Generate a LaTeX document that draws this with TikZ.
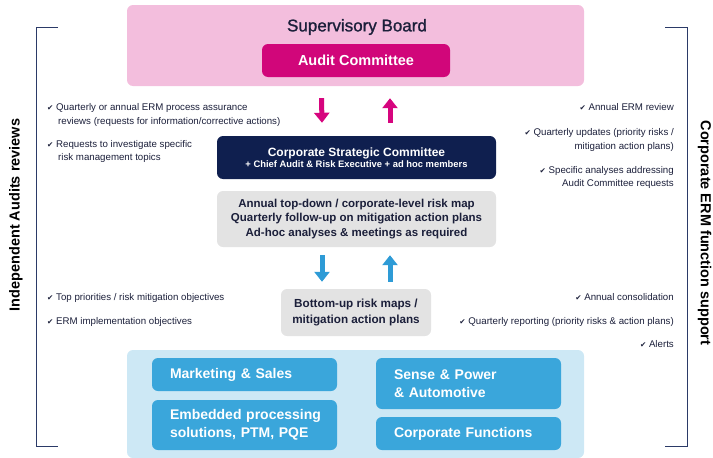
\documentclass[tikz,border=0pt]{standalone}
\usepackage{fontspec}
\setmainfont{Liberation Sans}
\newfontfamily\symf{DejaVu Sans}
\newfontfamily\medf[FakeBold=1.2]{Liberation Sans}
\usetikzlibrary{arrows.meta}
\definecolor{pinkbg}{HTML}{F3BEDD}
\definecolor{magent}{HTML}{D1067A}
\definecolor{magarr}{HTML}{D6057E}
\definecolor{navybox}{HTML}{0F1F4F}
\definecolor{graybox}{HTML}{E3E3E3}
\definecolor{lightblue}{HTML}{CDE8F5}
\definecolor{bluebox}{HTML}{3AA6DB}
\definecolor{bluearr}{HTML}{2E9BD6}
\definecolor{txtdark}{HTML}{1B1F3A}
\definecolor{brk}{HTML}{2B3A67}
\newcommand{\ck}{{\symf\fontsize{7.5}{9}\selectfont ✔}}
\tikzset{
  x=1pt, y=-1pt,
  rbox/.style={rounded corners=6pt, inner sep=0pt, align=center},
  bluebx/.style={rbox, fill=bluebox, text=white, align=left, inner xsep=18pt,
     text width=149pt, font=\bfseries\fontsize{14}{18}\selectfont},
  chk/.style={inner sep=0pt, text=txtdark, font=\fontsize{9.7}{11}\selectfont},
  parr/.style={line width=5pt, draw=magarr, -{Triangle[width=15pt,length=10pt]}},
  barr/.style={line width=5pt, draw=bluearr, -{Triangle[width=15pt,length=10pt]}},
  brack/.style={draw=brk, line width=1pt},
  side/.style={inner sep=0pt, text=black, font=\bfseries\fontsize{14.5}{18}\selectfont}
}
\begin{document}
\begin{tikzpicture}
\useasboundingbox (0,0) rectangle (713,458);
% top
\node[rbox, fill=pinkbg, minimum width=457pt, minimum height=81pt] (sb) at (355.5,45.5) {};
\node[inner sep=0pt, font=\medf\fontsize{17}{20}\selectfont, text=txtdark] (sbt) at (357,27) {Supervisory Board};
\node[rbox, fill=magent, minimum width=188pt, minimum height=33pt, text=white,
      font=\bfseries\fontsize{14.5}{17}\selectfont] (ac) at (356,60.5) {Audit Committee};
% strategic committee
\node[rbox, fill=navybox, minimum width=279pt, minimum height=43pt, text=white] (csc) at (356.5,157.5)
  {{\bfseries\fontsize{12}{14}\selectfont Corporate Strategic Committee}\\[-1pt]
   {\bfseries\fontsize{9.4}{11}\selectfont + Chief Audit \& Risk Executive + ad hoc members}};
\node[rbox, fill=graybox, minimum width=279pt, minimum height=56pt, text=txtdark,
      font=\bfseries\fontsize{11.5}{14.5}\selectfont] (gb) at (356.5,219)
  {Annual top-down / corporate-level risk map\\Quarterly follow-up on mitigation action plans\\Ad-hoc analyses \& meetings as required};
\node[rbox, fill=graybox, minimum width=150pt, minimum height=47pt, text=txtdark,
      font=\bfseries\fontsize{11.7}{15.5}\selectfont] (bu) at (356,312.5)
  {Bottom-up risk maps /\\mitigation action plans};
% bottom
\node[rbox, fill=lightblue, minimum width=457pt, minimum height=108pt] (bot) at (355.5,404) {};
\node[bluebx, minimum height=33pt] (ms) at (244.5,374.5) {Marketing \& Sales};
\node[bluebx, minimum height=50pt] (ep) at (244.5,425) {\mbox{Embedded processing}\\\mbox{solutions, PTM, PQE}};
\node[bluebx, minimum height=51pt] (sp) at (468.5,383.5) {\mbox{Sense \& Power}\\\mbox{\& Automotive}};
\node[bluebx, minimum height=33pt] (cf) at (468.5,433.5) {\mbox{Corporate Functions}};
% arrows
\draw[parr] ([xshift=-34pt,yshift=-12pt]sb.south) -- ([xshift=-34.5pt,yshift=13pt]csc.north);
\draw[parr] ([xshift=33.5pt,yshift=13pt]csc.north) -- ([xshift=34.5pt,yshift=-12pt]sb.south);
\draw[barr] ([xshift=-34.5pt,yshift=-8pt]gb.south) -- ([xshift=-34pt,yshift=7pt]bu.north);
\draw[barr] ([xshift=34pt,yshift=7pt]bu.north) -- ([xshift=33.5pt,yshift=-8pt]gb.south);
% brackets
\coordinate (l1) at (58,27); \coordinate (l2) at (36,27);
\coordinate (l3) at (36,446); \coordinate (l4) at (58,446);
\draw[brack] (l1) -- (l2) -- (l3) -- (l4);
\coordinate (r1) at (665,27); \coordinate (r2) at (687,27);
\coordinate (r3) at (687,446); \coordinate (r4) at (665,446);
\draw[brack] (r1) -- (r2) -- (r3) -- (r4);
\node[side, rotate=90] (lt) at (16,215) {Independent Audits reviews};
\node[side, rotate=-90] (rt) at (704.5,233) {Corporate ERM function support};
% left checklist
\node[chk, anchor=base west] (la1) at (47,110.5) {\ck\ Quarterly or annual ERM process assurance};
\node[chk, anchor=base west] (la2) at (58,124.5) {reviews (requests for information/corrective actions)};
\node[chk, anchor=base west] (lb1) at (47,147.5) {\ck\ Requests to investigate specific};
\node[chk, anchor=base west] (lb2) at (58,160.5) {risk management topics};
\node[chk, anchor=base west] (lc1) at (47,300.5) {\ck\ Top priorities / risk mitigation objectives};
\node[chk, anchor=base west] (ld1) at (47,324.5) {\ck\ ERM implementation objectives};
% right checklist
\node[chk, anchor=base east] (ra1) at (674,110.5) {\ck\ Annual ERM review};
\node[chk, anchor=base east] (rb1) at (674,135.5) {\ck\ Quarterly updates (priority risks /};
\node[chk, anchor=base east] (rb2) at (674,149.5) {mitigation action plans)};
\node[chk, anchor=base east] (rc1) at (674,173.5) {\ck\ Specific analyses addressing};
\node[chk, anchor=base east] (rc2) at (674,186.5) {Audit Committee requests};
\node[chk, anchor=base east] (rd1) at (674,300.5) {\ck\ Annual consolidation};
\node[chk, anchor=base east] (re1) at (674,324.5) {\ck\ Quarterly reporting (priority risks \& action plans)};
\node[chk, anchor=base east] (rf1) at (674,347.5) {\ck\ Alerts};
\end{tikzpicture}
\end{document}
